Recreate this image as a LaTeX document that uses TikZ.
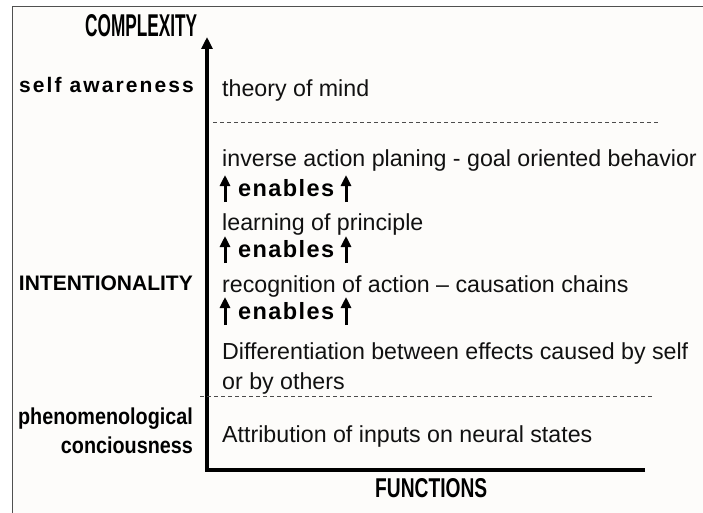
\documentclass[tikz,border=0pt]{standalone}
\usepackage{fontspec}
\setmainfont{Liberation Sans}
\usetikzlibrary{arrows.meta}
\definecolor{bgc}{HTML}{FDFCFA}
\definecolor{framec}{HTML}{505050}
\definecolor{txt}{HTML}{111111}
\begin{document}
\begin{tikzpicture}[x=1pt,y=-1pt,
  lbl/.style={font=\fontsize{23.2}{28}\selectfont, anchor=base west, inner sep=0pt, text=txt},
  cat/.style={font=\fontsize{21}{25}\selectfont\bfseries, anchor=base east, inner sep=0pt, text=black},
  enlbl/.style={font=\fontsize{23.5}{26}\selectfont\bfseries\addfontfeatures{LetterSpace=6}, anchor=base west, inner sep=0pt, text=black},
  enarrow/.style={line width=3pt, -{Triangle[width=10pt,length=11pt]}},
  axisline/.style={line width=3.5pt, -{Triangle[width=11pt,length=12pt]}},
  sepline/.style={line width=0.8pt, draw=black!70, dash pattern=on 4pt off 3pt},
  title/.style={anchor=south west, inner sep=0pt}
]
\useasboundingbox (0,0) rectangle (703,513);
\fill[white] (0,0) rectangle (703,513);
\fill[bgc] (12,7) rectangle (703,513);
\draw[framec, line width=1pt] (12,513) -- (12,7) -- (703,7);

% axes
\coordinate (xend) at (645,470);
\coordinate (origin) at (207,470);
\coordinate (ytip) at (207,37);
\draw[axisline] (xend) -- (origin) -- (ytip);

\node[title] (complexity) at (85,37) {\resizebox{112pt}{22pt}{\bfseries COMPLEXITY}};
\node[title] (functions) at (375,498) {\resizebox{112pt}{19pt}{\bfseries FUNCTIONS}};

% separators
\coordinate (s1a) at (213,122); \coordinate (s1b) at (660,122);
\coordinate (s2a) at (200,396); \coordinate (s2b) at (653,396);
\draw[sepline] (s1a) -- (s1b);
\draw[sepline] (s2a) -- (s2b);

% categories
\node[cat, font=\fontsize{21}{24}\selectfont\bfseries\addfontfeatures{LetterSpace=10}] (selfaw) at (194,93) {self awareness};
\node[cat] (intent) at (193,290) {INTENTIONALITY};
\node[cat, font=\fontsize{23}{25}\selectfont\bfseries, xscale=0.86] (phen) at (193,424) {phenomenological};
\node[cat, font=\fontsize{23}{25}\selectfont\bfseries, xscale=0.86] (conc) at (193,453) {conciousness};

% functions
\node[lbl] (tom) at (222,97) {theory of mind};
\node[lbl] (inv) at (222,166) {inverse action planing - goal oriented behavior};
\node[lbl] (learn) at (222,230) {learning of principle};
\node[lbl] (recog) at (222,292) {recognition of action – causation chains};
\node[lbl] (diff1) at (222,359) {Differentiation between effects caused by self};
\node[lbl] (diff2) at (222,389) {or by others};
\node[lbl] (attr) at (222,442) {Attribution of inputs on neural states};

% enables rows
\node[enlbl] (en1) at (238,196) {enables};
\node[enlbl] (en2) at (238,257) {enables};
\node[enlbl] (en3) at (238,319) {enables};
\coordinate (l1b) at (225,202); \coordinate (l1t) at (225,175);
\coordinate (r1b) at (346,202); \coordinate (r1t) at (346,175);
\coordinate (l2b) at (225,263); \coordinate (l2t) at (225,236);
\coordinate (r2b) at (346,263); \coordinate (r2t) at (346,236);
\coordinate (l3b) at (225,325); \coordinate (l3t) at (225,297);
\coordinate (r3b) at (346,325); \coordinate (r3t) at (346,297);
\draw[enarrow] (l1b) -- (l1t);
\draw[enarrow] (r1b) -- (r1t);
\draw[enarrow] (l2b) -- (l2t);
\draw[enarrow] (r2b) -- (r2t);
\draw[enarrow] (l3b) -- (l3t);
\draw[enarrow] (r3b) -- (r3t);
\end{tikzpicture}
\end{document}
